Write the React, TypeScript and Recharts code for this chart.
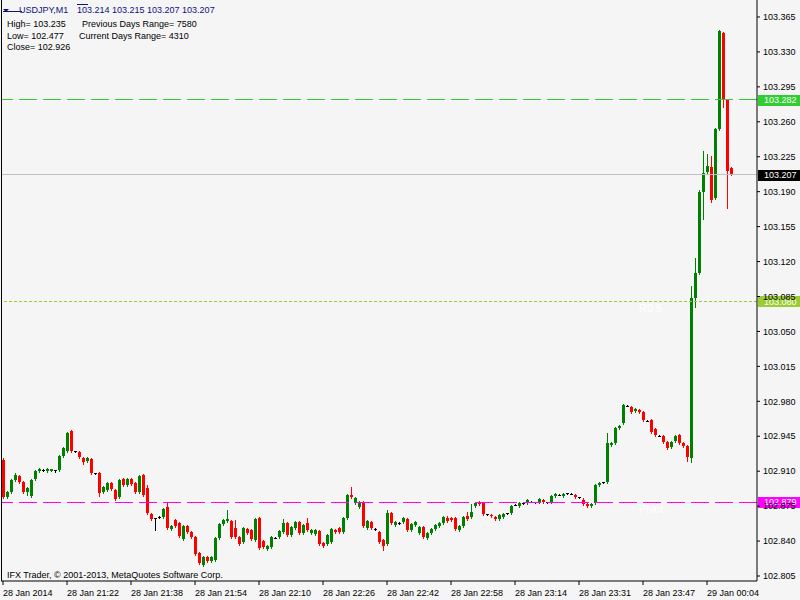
import { Bar, ComposedChart, ReferenceLine, XAxis, YAxis } from "recharts";

// USDJPY M1, one bar per minute starting 28 Jan 21:06
const opens = [
  102.921, 102.884, 102.889, 102.901, 102.905, 102.899, 102.889, 102.885, 102.902, 102.910,
  102.911, 102.910, 102.910, 102.911, 102.911, 102.925, 102.930, 102.950, 102.930, 102.929,
  102.923, 102.920, 102.922, 102.908, 102.908, 102.889, 102.891, 102.898, 102.891, 102.884,
  102.902, 102.896, 102.902, 102.898, 102.889, 102.906, 102.893, 102.867, 102.863, 102.864,
  102.864, 102.874, 102.852, 102.861, 102.858, 102.842, 102.855, 102.849, 102.844, 102.828,
  102.816, 102.824, 102.820, 102.821, 102.843, 102.857, 102.860, 102.860, 102.853, 102.844,
  102.839, 102.852, 102.851, 102.841, 102.863, 102.840, 102.832, 102.834, 102.843, 102.844,
  102.849, 102.858, 102.846, 102.853, 102.859, 102.848, 102.858, 102.848, 102.847, 102.850,
  102.838, 102.837, 102.839, 102.851, 102.853, 102.849, 102.863, 102.886, 102.878, 102.874,
  102.879, 102.853, 102.859, 102.852, 102.849, 102.841, 102.837, 102.868, 102.856, 102.858,
  102.859, 102.862, 102.851, 102.856, 102.848, 102.854, 102.843, 102.848, 102.852, 102.855,
  102.858, 102.863, 102.863, 102.863, 102.851, 102.855, 102.865, 102.864, 102.875, 102.879,
  102.878, 102.867, 102.866, 102.864, 102.862, 102.864, 102.868, 102.868, 102.876, 102.875,
  102.878, 102.878, 102.879, 102.879, 102.879, 102.881, 102.879, 102.879, 102.885, 102.886,
  102.885, 102.888, 102.887, 102.886, 102.884, 102.881, 102.877, 102.875, 102.878, 102.896,
  102.899, 102.899, 102.936, 102.938, 102.953, 102.958, 102.975, 102.974, 102.970, 102.971,
  102.969, 102.960, 102.961, 102.952, 102.945, 102.945, 102.939, 102.934, 102.940, 102.946,
  102.938, 102.935, 102.923, 103.083, 103.109, 103.190, 103.210, 103.215, 103.184, 103.253,
  103.349, 103.282, 103.214,
];
const highs = [
  102.923, 102.890, 102.902, 102.908, 102.906, 102.900, 102.894, 102.902, 102.911, 102.913,
  102.912, 102.913, 102.912, 102.911, 102.926, 102.934, 102.949, 102.951, 102.930, 102.930,
  102.924, 102.924, 102.923, 102.908, 102.909, 102.895, 102.899, 102.899, 102.892, 102.902,
  102.903, 102.903, 102.903, 102.899, 102.906, 102.907, 102.896, 102.868, 102.863, 102.865,
  102.873, 102.879, 102.856, 102.862, 102.859, 102.856, 102.856, 102.850, 102.845, 102.829,
  102.825, 102.825, 102.825, 102.844, 102.858, 102.862, 102.871, 102.861, 102.861, 102.845,
  102.854, 102.853, 102.852, 102.863, 102.864, 102.841, 102.836, 102.845, 102.844, 102.851,
  102.862, 102.859, 102.855, 102.860, 102.860, 102.857, 102.863, 102.852, 102.852, 102.851,
  102.839, 102.847, 102.853, 102.852, 102.854, 102.864, 102.887, 102.894, 102.884, 102.880,
  102.880, 102.861, 102.860, 102.853, 102.850, 102.842, 102.871, 102.869, 102.860, 102.859,
  102.864, 102.863, 102.858, 102.860, 102.855, 102.855, 102.849, 102.853, 102.857, 102.859,
  102.865, 102.865, 102.864, 102.864, 102.856, 102.865, 102.869, 102.877, 102.879, 102.880,
  102.879, 102.867, 102.867, 102.865, 102.867, 102.868, 102.868, 102.876, 102.877, 102.879,
  102.878, 102.882, 102.880, 102.879, 102.883, 102.882, 102.879, 102.886, 102.888, 102.887,
  102.888, 102.888, 102.888, 102.887, 102.884, 102.883, 102.878, 102.878, 102.897, 102.899,
  102.899, 102.948, 102.939, 102.954, 102.956, 102.977, 102.976, 102.975, 102.973, 102.972,
  102.970, 102.961, 102.962, 102.953, 102.946, 102.946, 102.940, 102.940, 102.946, 102.947,
  102.939, 102.936, 103.096, 103.124, 103.192, 103.231, 103.228, 103.226, 103.254, 103.352,
  103.350, 103.283, 103.215,
];
const lows = [
  102.883, 102.883, 102.888, 102.900, 102.898, 102.888, 102.886, 102.884, 102.901, 102.909,
  102.910, 102.909, 102.910, 102.909, 102.910, 102.924, 102.929, 102.929, 102.929, 102.923,
  102.917, 102.919, 102.907, 102.907, 102.885, 102.888, 102.890, 102.891, 102.881, 102.883,
  102.895, 102.895, 102.896, 102.888, 102.888, 102.885, 102.867, 102.861, 102.851, 102.863,
  102.863, 102.852, 102.851, 102.854, 102.844, 102.841, 102.848, 102.843, 102.826, 102.817,
  102.815, 102.819, 102.819, 102.820, 102.842, 102.856, 102.859, 102.843, 102.843, 102.836,
  102.838, 102.847, 102.841, 102.840, 102.832, 102.833, 102.831, 102.833, 102.843, 102.843,
  102.848, 102.845, 102.845, 102.852, 102.847, 102.847, 102.850, 102.847, 102.846, 102.836,
  102.834, 102.836, 102.838, 102.848, 102.848, 102.848, 102.862, 102.883, 102.877, 102.873,
  102.854, 102.852, 102.852, 102.851, 102.838, 102.831, 102.836, 102.857, 102.855, 102.857,
  102.858, 102.850, 102.850, 102.855, 102.847, 102.843, 102.842, 102.847, 102.851, 102.854,
  102.857, 102.859, 102.860, 102.851, 102.850, 102.854, 102.861, 102.863, 102.874, 102.876,
  102.866, 102.866, 102.864, 102.861, 102.861, 102.863, 102.867, 102.867, 102.876, 102.874,
  102.877, 102.877, 102.879, 102.878, 102.878, 102.878, 102.878, 102.878, 102.884, 102.886,
  102.884, 102.887, 102.887, 102.883, 102.883, 102.876, 102.874, 102.874, 102.877, 102.895,
  102.898, 102.898, 102.935, 102.937, 102.952, 102.957, 102.975, 102.968, 102.969, 102.968,
  102.960, 102.960, 102.948, 102.945, 102.945, 102.938, 102.932, 102.933, 102.939, 102.937,
  102.934, 102.920, 102.919, 103.074, 103.108, 103.163, 103.209, 103.180, 103.183, 103.252,
  103.275, 103.174, 103.207,
];
const closes = [
  102.884, 102.889, 102.901, 102.906, 102.899, 102.889, 102.893, 102.901, 102.910, 102.912,
  102.911, 102.912, 102.912, 102.911, 102.925, 102.933, 102.948, 102.930, 102.930, 102.924,
  102.919, 102.923, 102.908, 102.908, 102.888, 102.894, 102.898, 102.892, 102.882, 102.901,
  102.896, 102.902, 102.897, 102.889, 102.905, 102.886, 102.868, 102.862, 102.863, 102.864,
  102.872, 102.853, 102.855, 102.855, 102.845, 102.855, 102.849, 102.844, 102.827, 102.818,
  102.824, 102.820, 102.824, 102.843, 102.857, 102.861, 102.862, 102.844, 102.844, 102.837,
  102.853, 102.848, 102.842, 102.862, 102.833, 102.834, 102.835, 102.844, 102.843, 102.850,
  102.858, 102.846, 102.854, 102.859, 102.848, 102.856, 102.851, 102.851, 102.851, 102.837,
  102.835, 102.846, 102.852, 102.849, 102.849, 102.863, 102.886, 102.884, 102.883, 102.879,
  102.855, 102.860, 102.853, 102.852, 102.839, 102.835, 102.868, 102.858, 102.859, 102.858,
  102.863, 102.851, 102.857, 102.859, 102.854, 102.844, 102.848, 102.852, 102.856, 102.858,
  102.864, 102.860, 102.861, 102.852, 102.855, 102.864, 102.862, 102.869, 102.878, 102.877,
  102.867, 102.867, 102.865, 102.862, 102.866, 102.867, 102.868, 102.875, 102.876, 102.878,
  102.878, 102.881, 102.879, 102.879, 102.882, 102.879, 102.879, 102.885, 102.887, 102.886,
  102.887, 102.888, 102.887, 102.884, 102.884, 102.877, 102.875, 102.877, 102.896, 102.898,
  102.899, 102.938, 102.938, 102.953, 102.955, 102.976, 102.975, 102.969, 102.972, 102.969,
  102.961, 102.960, 102.949, 102.946, 102.945, 102.939, 102.933, 102.939, 102.945, 102.938,
  102.935, 102.924, 103.083, 103.109, 103.190, 103.209, 103.216, 103.182, 103.253, 103.351,
  103.282, 103.211, 103.207,
];

const timeTickIdx = [0, 16, 32, 48, 64, 80, 96, 112, 128, 144, 160, 176];
const timeTickLabels = [
  "28 Jan 2014", "28 Jan 21:22", "28 Jan 21:38", "28 Jan 21:54", "28 Jan 22:10", "28 Jan 22:26",
  "28 Jan 22:42", "28 Jan 22:58", "28 Jan 23:14", "28 Jan 23:31", "28 Jan 23:47", "29 Jan 00:04",
];
const priceTicks = [
  102.805, 102.84, 102.875, 102.91, 102.945, 102.98, 103.015, 103.05, 103.085, 103.12,
  103.155, 103.19, 103.225, 103.26, 103.295, 103.33, 103.365,
];

const bars = opens.map((o, i) => ({
  i,
  o,
  h: highs[i],
  l: lows[i],
  c: closes[i],
  range: [lows[i], highs[i]],
}));

const FONT = "'Liberation Sans', Arial, sans-serif";
const UP = "#008000";
const DOWN = "#FF0000";

function Candle(props: any) {
  const { x, y, width, height, payload } = props;
  if (!payload || height == null) return null;
  const { o, h, l, c } = payload;
  const top = Math.min(y, y + height);
  const span = Math.abs(height);
  const ppu = h > l ? span / (h - l) : 0;
  const py = (v: number) => Math.round(top + (h - v) * ppu);
  const cx = Math.round(x + width / 2);
  const color = c > o ? UP : c < o ? DOWN : "#000";
  const bTop = py(Math.max(o, c));
  const bBot = py(Math.min(o, c));
  return (
    <g>
      <rect x={cx} y={py(h)} width={1} height={py(l) - py(h) + 1} fill={color} />
      <rect x={cx - 1} y={bTop} width={3} height={Math.max(1, bBot - bTop)} fill={color} />
    </g>
  );
}

function TimeTick(props: any) {
  const { x, y, payload } = props;
  const k = timeTickIdx.indexOf(payload.value);
  return (
    <text x={x} y={y} dy={9} textAnchor="start" fontSize={9} fontFamily={FONT} fill="#000">
      {timeTickLabels[k]}
    </text>
  );
}

function priceTag(text: string, bg: string, note?: string) {
  return (props: any) => {
    const vb = props.viewBox;
    if (!vb) return null;
    const right = vb.x + vb.width;
    return (
      <g>
        <rect x={right + 1} y={Math.round(vb.y) - 5} width={42} height={11} fill={bg} />
        <text x={right + 7} y={vb.y} dy="0.36em" fontSize={9} fontFamily={FONT} fill="#fff">
          {text}
        </text>
        {note && (
          <text x={vb.x + 638} y={vb.y + 11} fontSize={11} fontFamily={FONT} fill="#fff">
            {note}
          </text>
        )}
      </g>
    );
  };
}

export default function App() {
  return (
    <div style={{ position: "relative", width: 800, height: 600, background: "#F5F5F5" }}>
      <style>{`body{margin:0}`}</style>
      <ComposedChart width={800} height={600} data={bars} margin={{ top: 0, right: 0, bottom: 0, left: 1 }}>
        <XAxis
          dataKey="i"
          type="number"
          domain={[-0.5, 188.5]}
          allowDataOverflow
          ticks={timeTickIdx}
          interval={0}
          height={19}
          tickSize={4}
          tickMargin={2}
          stroke="#000"
          tick={<TimeTick />}
        />
        <YAxis
          orientation="right"
          domain={[102.8, 103.382]}
          allowDataOverflow
          ticks={priceTicks}
          interval={0}
          width={43}
          tickSize={3}
          tickMargin={3}
          stroke="#000"
          tickFormatter={(v: number) => v.toFixed(3)}
          tick={{ fontSize: 9, fontFamily: FONT, fill: "#000", textAnchor: "start" }}
        />
        <ReferenceLine
          y={103.282}
          stroke="#32CD32"
          strokeDasharray="18 6"
          shapeRendering="crispEdges"
          label={priceTag("103.282", "#32CD32")}
        />
        <ReferenceLine y={103.207} stroke="#C0C0C0" shapeRendering="crispEdges" label={priceTag("103.207", "#000")} />
        <ReferenceLine
          y={103.08}
          stroke="#9ACD32"
          strokeDasharray="3 2"
          shapeRendering="crispEdges"
          label={priceTag("103.080", "#9ACD32", "R0.5")}
        />
        <ReferenceLine
          y={102.879}
          stroke="#FF00FF"
          strokeDasharray="18 6"
          shapeRendering="crispEdges"
          label={priceTag("102.879", "#FF00FF", "Pivot")}
        />
        <Bar dataKey="range" barSize={4} shape={<Candle />} isAnimationActive={false} />
      </ComposedChart>
      <svg
        width={800}
        height={600}
        style={{ position: "absolute", left: 0, top: 0, pointerEvents: "none" }}
        fontFamily={FONT}
        fontSize={9}
      >
        <rect x={1} y={0} width={1} height={581} fill="#000" />
        <polygon points="3,9 9,9 6,12" fill="#101080" />
        <rect x={3} y={11} width={19} height={1} fill="#101080" />
        <rect x={77} y={4} width={11} height={1} fill="#101080" />
        <text x={19} y={13} fill="#101080">USDJPY,M1</text>
        <text x={77} y={13} fill="#101080">103.214 103.215 103.207 103.207</text>
        <text x={7} y={27} fill="#000">High= 103.235</text>
        <text x={82} y={27} fill="#000">Previous Days Range= 7580</text>
        <text x={7} y={39} fill="#000">Low= 102.477</text>
        <text x={79} y={39} fill="#000">Current Days Range= 4310</text>
        <text x={7} y={50} fill="#000">Close= 102.926</text>
        <text x={7} y={578} fill="#000">IFX Trader, © 2001-2013, MetaQuotes Software Corp.</text>
      </svg>
    </div>
  );
}
